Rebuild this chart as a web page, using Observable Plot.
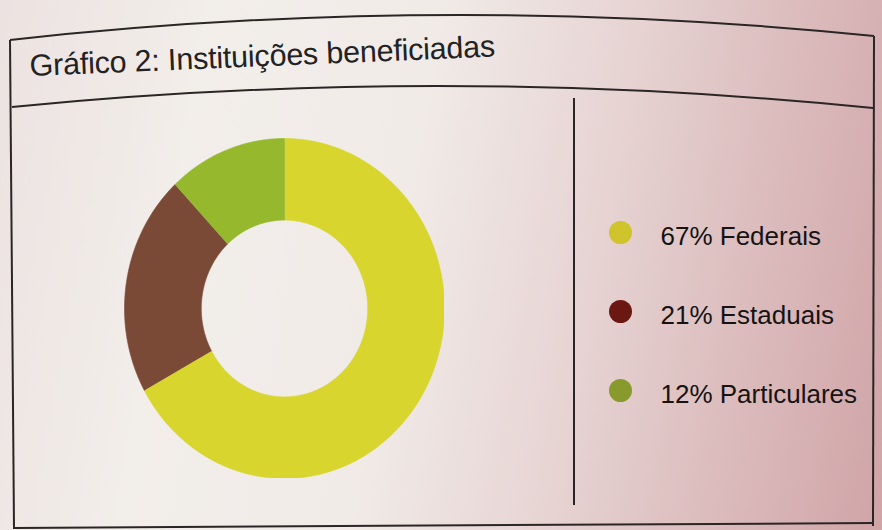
<!DOCTYPE html>
<html>
<head>
<meta charset="utf-8">
<script src="https://cdn.jsdelivr.net/npm/d3@7"></script>
<script src="https://cdn.jsdelivr.net/npm/@observablehq/plot@0.6"></script>
<style>
  html, body { margin: 0; padding: 0; }
  body {
    width: 882px; height: 530px; overflow: hidden; position: relative;
    font-family: "Liberation Sans", Arial, sans-serif;
    background: linear-gradient(100deg, #ece2e1 0%, #f2eeea 22%, #f1ebe8 45%, #e6d3d2 66%, #dcbcbd 82%, #d0a4a7 100%);
  }
  #frame { position: absolute; left: 0; top: 0; }
  #title {
    position: absolute; left: 30px; top: 48px; margin: 0;
    font-size: 30.5px; font-weight: normal; color: #222;
    transform-origin: 0 80%; transform: rotate(-2.4deg);
    white-space: nowrap; letter-spacing: -0.2px;
  }
  #donut { position: absolute; left: 124px; top: 138px; }
  #legend { position: absolute; left: 596px; top: 192px; }
</style>
</head>
<body>
<svg id="frame" width="882" height="530">
  <g fill="none" stroke="#2b2626" stroke-width="2">
    <path d="M10,40 Q441,-8 874,36" />
    <path d="M12,107 Q441,64.5 873,108" />
    <path d="M10,40 L14,529" />
    <path d="M874,36 L873,526" />
    <path d="M14,528 L873,523" />
    <path d="M574,98 L574,505" />
  </g>
</svg>
<h2 id="title">Gráfico 2: Instituições beneficiadas</h2>
<div id="donut"></div>
<div id="legend"></div>
<script>
// ---- data ----
const categories = ["Federais", "Estaduais", "Particulares"];
const shares = [67, 21, 12];
const sliceColors = ["#d7d52e", "#7b4a36", "#95b82d"];
const legendColors = ["#cfc42b", "#6b1712", "#879a2b"];
const innerRatio = 0.52;

// ---- build arc outlines from the shares ----
const total = d3.sum(shares);
const pts = [];
let acc = 0;
categories.forEach((name, i) => {
  const a0 = acc / total * 2 * Math.PI;
  const a1 = (acc + shares[i]) / total * 2 * Math.PI;
  acc += shares[i];
  const steps = Math.max(2, Math.ceil((a1 - a0) / (Math.PI / 180)));
  for (let k = 0; k <= steps; k++) {
    const a = a0 + (a1 - a0) * k / steps;
    pts.push({name, x: Math.sin(a), y: Math.cos(a)});
  }
  for (let k = steps; k >= 0; k--) {
    const a = a0 + (a1 - a0) * k / steps;
    pts.push({name, x: innerRatio * Math.sin(a), y: innerRatio * Math.cos(a)});
  }
});

const donut = Plot.plot({
  width: 320, height: 340,
  margin: 0,
  style: {background: "transparent"},
  x: {domain: [-1, 1], axis: null},
  y: {domain: [-1, 1], axis: null},
  color: {domain: categories, range: sliceColors},
  marks: [
    Plot.line(pts, {x: "x", y: "y", z: "name", fill: "name", stroke: "name", strokeWidth: 0.6, curve: "linear"})
  ]
});
document.getElementById("donut").append(donut);

// ---- legend ----
const legendRows = categories.map((name, i) => ({name, label: `${shares[i]}% ${name}`, color: legendColors[i]}));
const legend = Plot.plot({
  width: 286, height: 240,
  marginTop: 40, marginBottom: 42, marginLeft: 0, marginRight: 0,
  style: {background: "transparent", overflow: "visible"},
  y: {type: "point", domain: categories, padding: 0, axis: null},
  marks: [
    Plot.dot(legendRows, {y: "name", frameAnchor: "left", dx: 24, r: 11.5, fill: "color", stroke: "none"}),
    Plot.text(legendRows, {y: "name", text: "label", frameAnchor: "left", dx: 64, dy: 4, textAnchor: "start",
      fontSize: 26, fill: "#151313", fontFamily: "Liberation Sans, Arial, sans-serif"})
  ]
});
document.getElementById("legend").append(legend);
</script>
</body>
</html>
